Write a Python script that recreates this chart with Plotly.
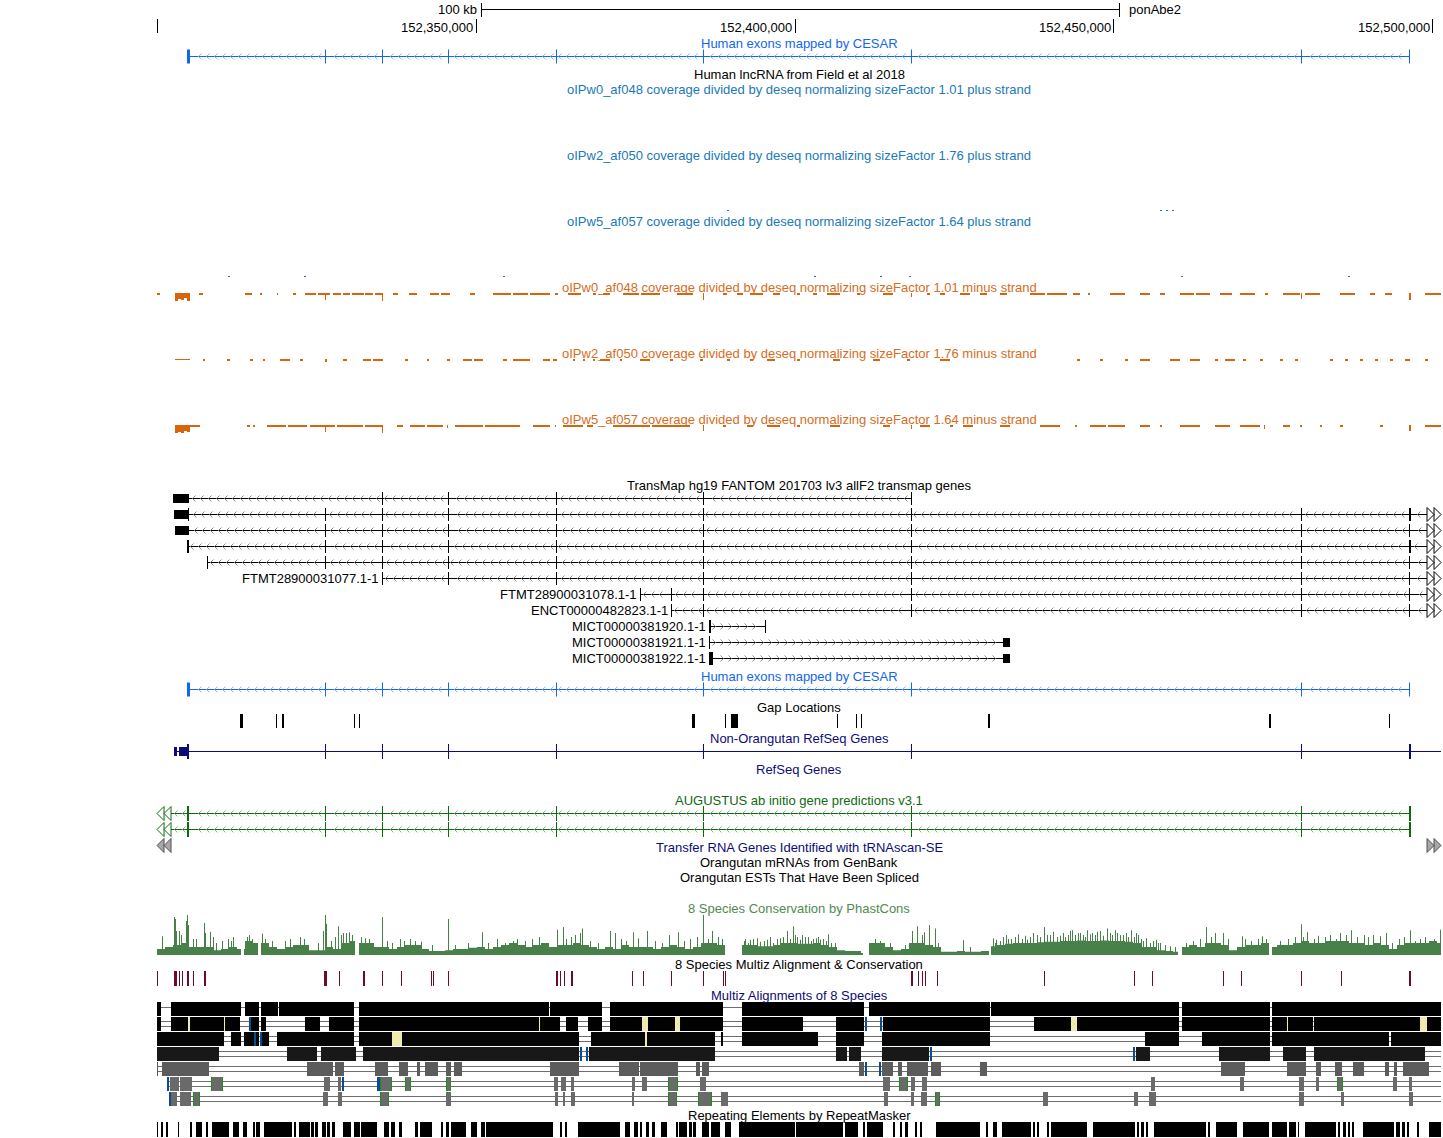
import plotly.graph_objects as go

# =============================== DATA ===================================
# Genomic positions are kb offsets from chr:152,300,000 (ponAbe2 assembly)
WINDOW_KB = (0.0, 201.41)
RULER_TICKS_KB = [50, 100, 150, 200]
RULER_LABELS = ["152,350,000", "152,400,000", "152,450,000", "152,500,000"]
SCALE_BAR_KB = (50.82, 150.82)
SCALE_BAR_TEXT = "100 kb"
ASSEMBLY = "ponAbe2"

TITLE_CESAR = "Human exons mapped by CESAR"
TITLE_LNC = "Human lncRNA from Field et al 2018"
TITLES_PLUS = ["oIPw0_af048 coverage divided by deseq normalizing sizeFactor 1.01 plus strand",
               "oIPw2_af050 coverage divided by deseq normalizing sizeFactor 1.76 plus strand",
               "oIPw5_af057 coverage divided by deseq normalizing sizeFactor 1.64 plus strand"]
TITLES_MINUS = ["oIPw0_af048 coverage divided by deseq normalizing sizeFactor 1.01 minus strand",
                "oIPw2_af050 coverage divided by deseq normalizing sizeFactor 1.76 minus strand",
                "oIPw5_af057 coverage divided by deseq normalizing sizeFactor 1.64 minus strand"]
TITLE_TRANSMAP = "TransMap hg19 FANTOM 201703 lv3 allF2 transmap genes"
TITLE_GAP = "Gap Locations"
TITLE_NCBI = "Non-Orangutan RefSeq Genes"
TITLE_REFSEQ = "RefSeq Genes"
TITLE_AUG = "AUGUSTUS ab initio gene predictions v3.1"
TITLE_TRNA = "Transfer RNA Genes Identified with tRNAscan-SE"
TITLE_MRNA = "Orangutan mRNAs from GenBank"
TITLE_EST = "Orangutan ESTs That Have Been Spliced"
TITLE_CONS = "8 Species Conservation by PhastCons"
TITLE_MZC = "8 Species Multiz Alignment & Conservation"
TITLE_MZ = "Multiz Alignments of 8 Species"
TITLE_RMSK = "Repeating Elements by RepeatMasker"

CESAR_EXONS = [(4.71, 5.10), (26.35, 26.51), (35.29, 35.45), (45.65, 45.80), (62.59, 62.74),
               (85.65, 85.80), (118.27, 118.43), (179.45, 179.61), (196.39, 196.55)]

PLUS_W0 = []
PLUS_W2 = [(89.41, 89.72, 1), (157.33, 157.65, 1), (158.27, 158.59, 1), (159.21, 159.53, 1)]
PLUS_W5 = [(11.14, 11.45, 1), (23.06, 23.37, 1), (54.27, 54.59, 1), (103.06, 103.37, 1),
           (113.41, 113.72, 1), (117.96, 118.27, 1), (160.63, 160.94, 1), (186.82, 187.14, 1)]

MINUS_W0 = [(0, 0.47, 2), (2.82, 3.29, 8), (3.29, 3.76, 6), (3.76, 4.24, 7), (4.24, 4.71, 5), (4.71, 5.18, 8),
            (6.59, 7.22, 2), (13.80, 14.90, 2), (16.16, 16.47, 2), (18.82, 18.98, 2), (21.33, 21.80, 2),
            (23.22, 24.9, 2), (25.2, 27.14, 2), (26.35, 26.51, 7), (27.61, 28.9, 2), (29.2, 30.27, 2),
            (30.59, 32.4, 2), (32.7, 33.9, 2), (34.2, 35.45, 2), (35.29, 35.45, 8),
            (37.02, 37.80, 2), (39.53, 40.78, 2), (42.82, 44.2, 2), (44.5, 45.96, 2), (49.10, 49.88, 2),
            (52.71, 55.5, 2), (55.8, 58.2, 2), (58.5, 61.65, 2),
            (62.43, 62.90, 2), (64.47, 66.51, 2), (68.39, 68.86, 2), (69.96, 71.06, 2), (73.10, 75.6, 2),
            (75.9, 78.90, 2),
            (81.57, 84.08, 2), (85.65, 85.80, 7), (88.78, 89.41, 2), (90.98, 91.92, 2), (93.02, 95.06, 2),
            (96.63, 97.73, 2), (100.39, 100.86, 2), (102.90, 103.53, 2), (105.10, 107.14, 2),
            (109.80, 110.27, 2), (113.88, 115.45, 2), (118.27, 118.43, 4), (120.78, 121.25, 2),
            (122.82, 123.61, 2), (125.96, 127.53, 2), (129.10, 130.19, 2), (132.23, 133.33, 2),
            (136.94, 139.3, 2), (139.6, 142.74, 2), (143.69, 144.78, 2), (146.04, 146.35, 2),
            (149.49, 151.84, 2),
            (154.19, 155.76, 2), (157.33, 158.12, 2), (160.47, 162.6, 2), (162.9, 165.17, 2),
            (166.74, 168.63, 2),
            (169.88, 172.23, 2), (173.80, 174.27, 2), (176.63, 179.29, 2), (179.45, 179.61, 6),
            (180.08, 182.43, 2), (185.57, 187.92, 2), (190.27, 191.06, 2), (192.63, 193.72, 2),
            (196.39, 196.70, 7), (198.90, 201.41, 2)]
MINUS_W2 = [(2.82, 5.18, 1), (7.22, 7.53, 2), (10.98, 11.45, 2), (14.59, 15.06, 2), (16.63, 16.94, 2),
            (19.29, 20.86, 2), (22.43, 22.90, 2), (26.35, 26.67, 3), (29.18, 29.80, 2), (32.31, 33.6, 2),
            (33.9, 35.45, 2),
            (38.90, 39.37, 2), (42.35, 42.67, 2), (45.49, 45.96, 2), (48.0, 49.4, 2), (49.7, 51.14, 2),
            (54.27, 54.90, 2),
            (55.84, 58.51, 2), (60.55, 61.65, 2), (62.12, 62.74, 2), (65.25, 65.57, 2), (66.82, 67.14, 2),
            (68.39, 68.71, 2), (69.49, 71.06, 2), (72.63, 72.94, 2), (75.76, 77.33, 2), (80.47, 80.94, 2),
            (85.17, 85.65, 2), (89.41, 89.88, 2), (93.02, 93.49, 2), (95.69, 96.94, 2), (100.39, 100.86, 2),
            (106.04, 107.14, 2), (112.31, 113.41, 2), (117.65, 118.12, 2), (122.82, 124.39, 2),
            (144.31, 144.78, 2), (147.92, 148.39, 2), (151.84, 152.31, 2), (154.19, 155.76, 2),
            (158.90, 160.47, 2), (162.04, 163.60, 2), (165.96, 166.43, 2), (167.53, 169.10, 2),
            (170.35, 170.82, 2), (173.02, 173.49, 2), (176.15, 176.63, 2), (178.51, 178.98, 2),
            (184.0, 184.47, 2), (186.35, 186.82, 2), (188.70, 189.17, 2), (191.06, 191.53, 2),
            (193.41, 193.88, 2), (195.76, 196.55, 2), (198.90, 199.37, 2)]
MINUS_W5 = [(2.82, 3.29, 8), (3.29, 3.76, 7), (3.76, 4.24, 8), (4.24, 4.71, 6), (4.71, 5.18, 7),
            (5.18, 6.74, 2), (14.12, 14.59, 2), (15.06, 15.37, 2), (17.25, 20.3, 2), (20.6, 23.53, 2),
            (24.0, 27.9, 2), (28.2, 32.31, 2),
            (26.35, 26.51, 7), (32.63, 35.45, 2), (35.29, 35.45, 8), (37.65, 38.59, 2), (39.69, 42.1, 2),
            (42.4, 44.86, 2),
            (45.49, 45.65, 3), (46.74, 51.2, 2), (51.5, 56.94, 2), (58.98, 61.65, 2), (62.43, 62.59, 2),
            (63.69, 66.82, 2),
            (67.45, 68.39, 2), (71.53, 77.4, 2), (77.7, 83.61, 2), (85.65, 85.80, 6), (88.78, 89.25, 2),
            (92.55, 93.49, 2),
            (95.69, 97.73, 2), (100.39, 100.86, 2), (105.57, 107.14, 2), (113.88, 114.98, 2),
            (118.27, 118.43, 4), (119.68, 121.25, 2), (124.39, 124.86, 2), (126.43, 128.0, 2),
            (132.23, 133.80, 2), (138.51, 141.65, 2), (143.99, 144.31, 2), (146.35, 148.9, 2),
            (149.2, 151.84, 2),
            (154.19, 155.76, 2), (157.33, 157.65, 2), (160.47, 163.60, 2), (165.96, 168.31, 2),
            (169.88, 173.02, 2), (173.65, 173.80, 4), (176.63, 177.72, 2), (179.29, 179.61, 2),
            (182.43, 182.74, 2), (185.57, 186.04, 2), (191.84, 192.31, 2), (196.39, 196.70, 6),
            (198.90, 201.41, 2)]

TM_NAMES = ["", "", "", "", "", "FTMT28900031077.1-1", "FTMT28900031078.1-1", "ENCT00000482823.1-1",
            "MICT00000381920.1-1", "MICT00000381921.1-1", "MICT00000381922.1-1"]
TM_STRAND = ["-", "-", "-", "-", "-", "-", "-", "-", "+", "+", "+"]
TM_CONTINUES_RIGHT = [False, True, True, True, True, True, True, True, False, False, False]
TM_UTR = [[(2.51, 5.02)], [(2.67, 4.86)], [(2.82, 5.02)], [], [], [], [], [], [],
          [(132.70, 133.80)], [(132.70, 133.80)]]
TM_EXONS = [
    [(35.29, 35.45), (45.65, 45.80), (62.59, 62.74), (85.65, 85.80), (118.27, 118.43)],
    [(4.86, 5.02), (26.35, 26.51), (35.29, 35.45), (45.65, 45.80), (62.59, 62.74), (85.65, 85.80),
     (118.27, 118.43), (179.45, 179.61), (196.39, 196.70)],
    [(26.35, 26.51), (35.29, 35.45), (45.65, 45.80), (62.59, 62.74), (85.65, 85.80),
     (118.27, 118.43), (179.45, 179.61), (196.39, 196.55)],
    [(4.71, 5.02), (26.35, 26.51), (35.29, 35.45), (45.65, 45.80), (62.59, 62.74), (85.65, 85.80),
     (118.27, 118.43), (179.45, 179.61), (196.39, 196.70)],
    [(7.84, 8.00), (26.35, 26.51), (35.29, 35.45), (45.65, 45.80), (62.59, 62.74), (85.65, 85.80),
     (118.27, 118.43), (179.45, 179.61), (196.39, 196.55)],
    [(35.29, 35.45), (45.65, 45.80), (62.59, 62.74), (85.65, 85.80), (118.27, 118.43),
     (179.45, 179.61), (196.39, 196.55)],
    [(75.76, 75.92), (80.63, 80.78), (85.65, 85.80), (118.27, 118.43), (179.45, 179.61), (196.39, 196.55)],
    [(80.63, 80.78), (85.65, 85.80), (118.27, 118.43), (179.45, 179.61), (196.39, 196.55)],
    [(86.59, 86.90), (95.37, 95.53)],
    [(86.59, 86.75)],
    [(86.59, 87.22)],
]

GAPS = [(13.02, 13.49), (18.67, 18.82), (19.61, 19.92), (30.90, 31.06), (31.69, 31.84), (83.92, 84.39),
        (89.10, 89.25), (90.04, 91.14), (106.67, 106.82), (109.65, 109.80), (110.43, 110.59),
        (130.35, 130.66), (174.43, 174.74), (193.25, 193.41)]

NCBI_UTR = [(2.67, 3.14), (3.45, 4.71)]
NCBI_EXONS = [(4.71, 5.02), (26.35, 26.51), (35.29, 35.45), (45.65, 45.80), (62.59, 62.74),
              (85.65, 85.80), (118.27, 118.43), (179.45, 179.61), (196.39, 196.70)]

AUG_EXONS = [(4.71, 5.02), (26.35, 26.51), (35.29, 35.45), (45.65, 45.80), (62.59, 62.74),
             (85.65, 85.80), (118.27, 118.43), (179.45, 179.61), (196.39, 196.70)]

CONS_BIN_KB = 1.2549
CONS_LEVEL = [0.15, 0.2, 0.25, 0.3, 0.2, 0.2, 0.2, 0.12, 0.15, 0.2, 0.15,
              0.35, 0.3, 0.3, 0.2, 0.15, 0.2, 0.25, 0.25, 0.12, 0.12,
              0.2, 0.15, 0.3, 0.35, 0.3, 0.3, 0.2, 0.2, 0.15, 0.2,
              0.25, 0.25, 0.15, 0.1, 0.1, 0.12, 0.15, 0.15, 0.18, 0.2,
              0.15, 0.2, 0.25, 0.3, 0.25, 0.2, 0.25, 0.3, 0.2, 0.25,
              0.25, 0.3, 0.25, 0.2, 0.15, 0.2, 0.15, 0.25, 0.2, 0.2,
              0.2, 0.15, 0.2, 0.25, 0.2, 0.15, 0.2, 0.3, 0.3, 0.25,
              0.0, 0.0, 0.25, 0.25, 0.22, 0.22, 0.25, 0.3, 0.3, 0.28,
              0.28, 0.3, 0.25, 0.2, 0.12, 0.1, 0.1, 0.05, 0.3, 0.3,
              0.2, 0.12, 0.15, 0.3, 0.3, 0.25, 0.2, 0.08, 0.08, 0.1,
              0.08, 0.08, 0.1, 0.22, 0.25, 0.28, 0.3, 0.3, 0.3, 0.32,
              0.33, 0.33, 0.35, 0.35, 0.36, 0.35, 0.35, 0.36, 0.35, 0.35,
              0.33, 0.3, 0.2, 0.2, 0.12, 0.1, 0.08, 0.2, 0.25, 0.2,
              0.3, 0.3, 0.25, 0.12, 0.2, 0.25, 0.25, 0.3, 0.2, 0.25,
              0.25, 0.3, 0.35, 0.3, 0.3, 0.35, 0.35, 0.35, 0.3, 0.3,
              0.25, 0.3, 0.25, 0.15, 0.25, 0.3, 0.3, 0.3, 0.35, 0.3]
CONS_SPIKE_KB = [0.78, 2.67, 2.82, 2.98, 3.45, 3.76, 4.55, 4.71, 4.86, 5.65, 6.12, 7.37, 7.53, 8.31, 8.78,
                 9.25, 10.20, 11.14, 11.61, 11.92, 14.12, 14.43, 14.90, 16.47, 16.94, 18.04, 20.08, 20.86,
                 22.43, 23.06, 25.25, 26.04, 26.35, 26.51, 27.29, 27.92, 28.39, 28.86, 29.18, 29.65, 30.12,
                 30.59, 32.0, 32.63, 33.25, 33.88, 35.29, 36.08, 36.86, 38.12, 38.74, 39.69, 40.47, 41.41,
                 43.14, 45.65, 46.74, 48.78, 50.98, 51.92, 53.33, 54.59, 55.84, 56.47, 57.72, 58.82, 59.92,
                 62.74, 63.69, 64.16, 64.94, 65.57, 66.35, 66.67, 67.92, 69.18, 71.06, 71.84, 72.78, 73.57,
                 74.67, 75.45, 76.86, 78.12, 79.21, 80.31, 81.72, 82.67, 83.61, 84.70, 85.65, 86.43, 87.06,
                 88.0, 88.63, 92.23, 93.02, 94.12, 95.21, 96.16, 97.25, 98.19, 98.82, 99.76, 100.39, 101.17,
                 102.12, 102.90, 103.68, 104.47, 105.25, 106.35, 112.63, 113.41, 114.04, 114.98, 117.33,
                 118.43, 119.21, 120.0, 120.31, 121.10, 122.04, 122.51, 126.43, 127.53, 131.45, 132.23,
                 133.49, 134.59, 135.68, 136.94, 138.04, 139.13, 140.08, 141.17, 142.12, 142.90, 143.53,
                 144.47, 145.25, 145.88, 146.66, 147.92, 149.02, 149.80, 150.59, 151.53, 152.0, 152.78,
                 153.25, 153.88, 154.66, 155.76, 156.70, 157.33, 161.41, 162.51, 163.60, 164.55, 165.33,
                 165.96, 167.21, 168.0, 170.19, 170.66, 171.60, 172.70, 173.33, 173.96, 176.15, 177.41,
                 178.51, 179.45, 179.76, 180.39, 181.49, 182.11, 183.21, 184.0, 184.94, 185.57, 186.51,
                 187.29, 188.23, 189.33, 189.96, 190.74, 191.84, 192.78, 193.72, 194.82, 195.60, 196.55,
                 197.33, 198.11, 198.90, 199.68, 200.31, 201.25,
                 131.13, 131.61, 132.70, 133.17, 133.96, 135.06, 136.15, 136.47, 137.41, 138.51, 139.61,
                 140.55, 141.64, 142.43, 143.21, 144.0, 144.78, 145.57, 146.35, 147.13, 147.45, 148.39,
                 149.49, 150.27, 151.06, 152.31, 153.57, 154.35, 155.13, 156.23, 157.02, 158.11, 158.90,
                 159.68,
                 92.08, 92.70, 93.49, 94.59, 95.68, 96.63, 97.72, 99.29, 100.08, 100.86, 101.64, 102.59,
                 103.37, 104.0, 104.94, 105.72]
CONS_SPIKE_VAL = [0.47, 0.95, 0.9, 0.6, 0.6, 0.5, 0.85, 1.0, 0.75, 0.4, 0.4, 0.8, 0.55, 0.58, 0.45,
                  0.3, 0.35, 0.4, 0.35, 0.45, 0.45, 0.5, 0.4, 0.53, 0.4, 0.35, 0.35, 0.4,
                  0.45, 0.4, 0.3, 0.6, 1.0, 0.78, 0.35, 0.45, 0.72, 0.5, 0.55, 0.55, 0.57,
                  0.5, 0.45, 0.42, 0.4, 0.3, 0.95, 0.35, 0.3, 0.4, 0.35, 0.4, 0.35, 0.33,
                  0.25, 0.9, 0.25, 0.3, 0.57, 0.3, 0.4, 0.3, 0.35, 0.4, 0.35, 0.4, 0.45,
                  0.63, 0.7, 0.4, 0.45, 0.5, 0.55, 0.66, 0.35, 0.3, 0.6, 0.55, 0.4, 0.35,
                  0.57, 0.42, 0.6, 0.35, 0.3, 0.5, 0.57, 0.35, 0.4, 0.45, 1.0, 0.4, 0.6,
                  0.45, 0.4, 0.4, 0.38, 0.42, 0.35, 0.45, 0.4, 0.45, 0.6, 0.72, 0.45, 0.5,
                  0.45, 0.4, 0.45, 0.4, 0.52, 0.3, 0.4, 0.35, 0.3, 0.3, 0.25,
                  0.6, 0.72, 0.5, 0.57, 0.75, 0.66, 0.3, 0.37, 0.2, 0.3, 0.35,
                  0.4, 0.45, 0.4, 0.45, 0.5, 0.7, 0.5, 0.45, 0.55, 0.5, 0.62,
                  0.55, 0.5, 0.62, 0.55, 0.6, 0.66, 0.5, 0.55, 0.5, 0.55, 0.62,
                  0.45, 0.5, 0.35, 0.3, 0.38, 0.3, 0.3, 0.35, 0.4, 0.7, 0.45,
                  0.55, 0.55, 0.4, 0.47, 0.4, 0.35, 0.4, 0.47, 0.4, 0.35, 0.4,
                  0.45, 0.77, 0.45, 0.57, 0.4, 0.48, 0.45, 0.5, 0.4, 0.55, 0.5,
                  0.62, 0.45, 0.5, 0.45, 0.5, 0.47, 0.55, 0.3, 0.4, 0.45, 0.62,
                  0.35, 0.4, 0.45, 0.35, 0.4, 0.63,
                  0.42, 0.38, 0.45, 0.5, 0.4, 0.52, 0.48, 0.38, 0.55, 0.45, 0.5,
                  0.58, 0.48, 0.45, 0.6, 0.5, 0.55, 0.45, 0.52, 0.5, 0.58, 0.48,
                  0.55, 0.62, 0.5, 0.45, 0.55, 0.4, 0.42, 0.35, 0.3, 0.25, 0.22,
                  0.2,
                  0.35, 0.3, 0.4, 0.33, 0.38, 0.3, 0.42, 0.4, 0.5, 0.38, 0.45, 0.35,
                  0.42, 0.38, 0.35, 0.3]
CONS_NODATA = [(13.18, 13.65), (15.84, 16.31), (31.06, 31.69), (89.25, 91.76), (110.74, 111.68),
               (130.51, 130.82), (160.15, 160.78), (174.43, 174.90)]

MZC_ELEMENTS = [(0.0, 0.16), (2.67, 3.14), (3.45, 3.61), (3.92, 4.08), (4.71, 5.02), (5.65, 5.80),
                (7.37, 7.69), (26.20, 26.67), (28.55, 28.71), (32.31, 32.63), (35.29, 35.45),
                (38.27, 38.43), (42.98, 43.14), (43.29, 43.45), (45.65, 45.80), (62.59, 62.90),
                (63.21, 63.37), (63.84, 64.0), (64.94, 65.25), (74.51, 74.67), (76.23, 76.39),
                (80.63, 80.78), (85.65, 85.80), (88.78, 88.94), (89.10, 89.25), (118.27, 118.59),
                (119.37, 119.53), (120.0, 120.16), (120.47, 120.63), (122.35, 122.51), (139.13, 139.29),
                (153.25, 153.41), (156.08, 156.23), (167.21, 167.37), (170.04, 170.19), (179.45, 179.61),
                (185.72, 185.88), (196.39, 196.70)]

MZ_BLOCKS = [
    [(0, 0.63), (2.2, 13.18), (13.8, 16.0), (16.31, 18.98), (19.14, 30.9), (31.69, 61.49), (61.65, 69.8),
     (71.06, 88.78), (91.76, 110.9), (111.68, 130.66), (130.82, 160.31), (160.78, 174.59), (174.9, 201.41)],
    [(0, 0.63), (2.2, 4.86), (5.18, 10.51), (10.67, 13.02), (14.74, 16.0), (16.31, 17.10), (23.22, 25.57),
     (26.98, 30.90), (31.69, 59.92), (60.08, 63.21), (64.16, 66.04), (67.61, 69.80), (71.06, 76.08),
     (77.02, 81.25), (82.04, 88.78), (91.76, 101.33), (106.51, 110.90), (113.88, 130.66), (137.57, 143.37),
     (144.31, 160.31), (160.78, 174.59), (174.90, 177.25), (177.41, 181.33), (181.49, 198.11),
     (199.21, 201.41)],
    [(0, 10.51), (11.61, 13.18), (13.65, 16.0), (16.31, 17.57), (18.82, 30.90), (31.69, 36.86),
     (38.43, 66.20), (68.08, 76.55), (76.86, 87.53), (88.47, 88.78), (91.76, 103.68), (106.51, 110.90),
     (113.73, 130.66), (154.98, 160.31), (163.92, 174.59), (174.90, 193.25), (193.56, 201.41)],
    [(0, 9.73), (20.39, 25.10), (25.73, 31.22), (32.31, 66.20), (67.76, 87.53), (106.51, 108.23),
     (108.55, 110.43), (113.73, 121.10), (153.57, 155.76), (166.59, 174.59), (176.63, 180.23),
     (181.49, 198.90)],
    [(0, 0.16), (0.78, 8.16), (23.53, 27.61), (27.92, 29.33), (34.20, 36.24), (37.96, 39.37), (40.78, 41.25),
     (42.04, 44.08), (45.33, 46.12), (46.59, 47.84), (61.65, 66.20), (72.47, 75.61), (75.76, 81.72),
     (84.55, 85.17), (85.49, 86.59), (110.12, 110.90), (113.73, 115.45), (116.24, 116.86), (117.65, 120.94),
     (121.41, 122.98), (129.10, 130.19), (166.90, 170.66), (177.25, 180.23), (181.80, 182.59),
     (184.78, 185.88), (187.61, 189.33), (192.63, 193.25), (194.04, 194.51), (195.45, 199.53)],
    [(2.04, 3.45), (3.61, 5.49), (8.47, 10.35), (26.20, 27.14), (28.39, 28.86), (34.98, 36.86),
     (38.90, 39.84), (45.33, 46.12), (62.27, 62.90), (63.37, 64.16), (64.94, 65.41), (74.51, 74.98),
     (76.08, 76.86), (80.16, 81.72), (85.17, 86.12), (113.88, 114.98), (116.39, 117.80), (118.27, 118.90),
     (120.0, 120.78), (155.92, 156.55), (169.88, 170.51), (179.14, 179.92), (181.80, 182.27),
     (185.10, 186.04), (193.88, 194.51), (196.39, 196.86)],
    [(2.20, 3.14), (3.61, 5.33), (5.65, 6.74), (26.04, 26.82), (28.39, 29.02), (34.98, 36.39),
     (45.33, 46.12), (62.43, 62.90), (63.69, 64.0), (64.94, 65.57), (74.51, 74.82), (80.16, 81.57),
     (84.86, 87.06), (88.47, 89.57), (114.04, 114.67), (118.27, 118.74), (119.84, 120.78), (122.04, 122.82),
     (138.98, 139.76), (153.25, 153.88), (155.61, 156.70), (179.14, 179.92), (185.72, 186.19),
     (196.39, 197.02)],
]
MZ_SPAN = [(0, 201.41), (0, 201.41), (0, 201.41), (0, 201.41), (0, 201.41), (1.57, 201.41), (1.88, 201.41)]
MZ_INSERTS = [[], [(4.86, 5.18), (10.51, 10.67), (59.92, 60.08), (76.08, 77.02), (81.25, 82.04),
                   (143.37, 144.31), (177.25, 177.41), (198.11, 199.21)],
              [(36.86, 38.43), (76.55, 76.86)], [], [], [], []]
MZ_DOUBLE = [[], [(14.43, 14.74), (111.06, 111.37), (113.41, 113.73)],
             [(15.22, 15.53), (16.16, 16.47)],
             [(66.35, 66.67), (67.29, 67.61), (121.25, 121.57), (153.10, 153.41)],
             [(111.06, 111.37), (113.26, 113.57)],
             [(1.57, 1.88), (29.02, 29.33), (34.51, 34.98)],
             [(1.88, 2.20)]]
MZ_MISSING = [[], [], [], [], [],
              [(8.47, 10.35), (34.98, 36.86), (38.90, 39.84), (45.33, 46.12), (80.16, 81.72),
               (116.39, 117.80), (185.10, 186.04)],
              [(5.65, 6.74), (34.98, 36.39), (80.16, 81.57), (84.86, 87.06), (122.04, 122.82)]]

RMSK = [(0.0, 0.16), (0.63, 0.94), (1.41, 1.73), (3.29, 3.45), (5.18, 5.49), (6.12, 7.06), (7.69, 8.0),
        (8.63, 11.29), (11.92, 12.86), (13.49, 14.12), (15.06, 15.37), (15.53, 16.16), (16.78, 21.18),
        (21.49, 21.80), (22.27, 24.0), (24.16, 24.63), (24.78, 25.25), (25.88, 26.51), (26.67, 27.14),
        (27.45, 27.92), (29.18, 30.43), (30.90, 31.84), (32.0, 34.51), (35.61, 36.39), (36.71, 37.33),
        (37.96, 38.43), (40.47, 40.94), (41.25, 43.14), (44.55, 44.86), (45.33, 45.80), (46.12, 48.47),
        (49.25, 50.20), (50.82, 51.45), (51.61, 62.12), (63.21, 63.53), (64.0, 64.31), (66.04, 72.63),
        (73.41, 74.20), (74.82, 75.45), (75.76, 76.08), (76.70, 77.18), (77.65, 78.12), (79.06, 80.0),
        (81.41, 81.72), (81.88, 83.14), (83.45, 83.92), (84.08, 84.55), (85.49, 86.59), (86.90, 88.31),
        (89.10, 90.04), (91.29, 100.08), (100.24, 107.61), (107.92, 109.96), (110.74, 111.06),
        (111.37, 113.88), (115.45, 115.76), (116.55, 116.86), (117.33, 117.80), (118.90, 119.21),
        (119.68, 120.0), (122.19, 129.10), (130.04, 130.35), (131.13, 131.76), (132.55, 137.10),
        (137.41, 137.72), (138.04, 138.35), (139.61, 139.92), (140.23, 145.88), (146.82, 153.41),
        (153.72, 154.04), (154.35, 154.82), (155.13, 155.45), (156.39, 164.55), (164.86, 165.17),
        (166.12, 169.41), (170.35, 174.43), (174.90, 177.25), (177.57, 178.67), (178.98, 179.14),
        (180.08, 184.94), (185.25, 185.57), (186.04, 186.51), (186.82, 187.14), (187.45, 187.76),
        (189.17, 194.04), (194.35, 194.98), (195.29, 195.76), (196.08, 196.39), (197.65, 197.96),
        (199.53, 201.41)]

# ============================ LAYOUT / STYLE ===============================
W, H = 1443, 1138
X0, X1 = -24.63, 201.72          # left part is the (blank) label gutter
S = (X1 - X0) / W                # kb per pixel
FONT = "Liberation Sans, Arial, Helvetica, sans-serif"
BLACK = "#000000"
CESAR_C, CESAR_CHEV = "#1366ee", "#92b8f4"
PLUS_C = "#2179b9"
MINUS_C, MINUS_TXT = "#d8640c", "#d66d1e"
NAVY = "#0c0c78"
AUG_C, AUG_CHEV = "#0e6a0e", "#86bd86"
CONS_C, CONS_TXT = "#48804a", "#4f8c4f"
MZC_C = "#6c0a2a"
MZ_SHADES = ["#000000", "#020202", "#060606", "#181818", "#5c5c5c", "#6a6a6a", "#6a6a6a"]
MZ_LINE = "#6e6e6e"
INS_C, DBL_C, MISS_C = "#eeeab0", "#0a4c94", "#1f8c1f"

FILLS, LINES = {}, {}


def to_px(x):
    return (x - X0) / S


def from_px(p):
    return X0 + p * S


def snap(x):
    return from_px(round(to_px(x)))


def poly(layer, color, pts):
    xs, ys = FILLS.setdefault((layer, color), ([], []))
    for x, y in pts:
        xs.append(x)
        ys.append(y)
    xs.append(None)
    ys.append(None)


def pline(layer, color, pts, width=1):
    xs, ys = LINES.setdefault((layer, color, width), ([], []))
    for x, y in pts:
        xs.append(x)
        ys.append(y)
    xs.append(None)
    ys.append(None)


def rect(layer, color, x0, x1, y0, y1):
    a, b = snap(x0), snap(x1)
    if b - a < S * 0.5:
        b = a + S
    poly(layer, color, [(a, y0), (b, y0), (b, y1), (a, y1)])


def hline(layer, color, x0, x1, row):
    rect(layer, color, x0, x1, row, row + 1)


def block(layer, color, x0, x1, row, h):
    rect(layer, color, x0, x1, row + 0.5 - h / 2, row + 0.5 + h / 2)


def chevrons(layer, color, lo, hi, row, strand, avoid):
    p, p1 = to_px(lo) + 5, to_px(hi) - 3
    av = [(to_px(a), to_px(b)) for a, b in avoid]
    yc = row + 0.5
    while p < p1:
        if all(p < a - 3 or p > b + 3 for a, b in av):
            if strand == "-":
                seg = [(p + 1.5, yc - 3), (p - 1.5, yc), (p + 1.5, yc + 3)]
            else:
                seg = [(p - 1.5, yc - 3), (p + 1.5, yc), (p - 1.5, yc + 3)]
            pline(layer, color, [(from_px(q), y) for q, y in seg])
        p += 8


def tri(color, pl, pr, row, direction, fill=None, layer=6):
    yc = row + 0.5
    if direction == "right":
        pts = [(pl, yc - 7), (pr, yc), (pl, yc + 7), (pl, yc - 7)]
    else:
        pts = [(pr, yc - 7), (pl, yc), (pr, yc + 7), (pr, yc - 7)]
    kp = [(from_px(q), y) for q, y in pts]
    if fill:
        poly(layer, fill, kp[:-1])
    pline(layer + 1, color, kp)


WL, WR = to_px(WINDOW_KB[0]), to_px(WINDOW_KB[1])


def edge_marks(color, row, side, fill=None):
    if side == "right":
        tri(color, WR - 14, WR - 7, row, "right", fill)
        tri(color, WR - 7, WR, row, "right", fill)
    else:
        tri(color, WL, WL + 7, row, "left", fill)
        tri(color, WL + 7, WL + 14, row, "left", fill)


def gene(row, utr, exons, col, chev, strand, cont_left=False, cont_right=False, marks_right=False,
         utr_h=9, exon_h=13):
    blocks = utr + exons
    lo = min(a for a, b in blocks)
    hi = max(b for a, b in blocks)
    if cont_left:
        lo = from_px(WL + 14)
    if cont_right:
        hi = from_px(WR - 14) if marks_right else WINDOW_KB[1]
    hline(2, col, lo, hi, row)
    if chev:
        chevrons(3, chev, lo, hi, row, strand, blocks)
    for a, b in utr:
        block(4, col, a, b, row, utr_h)
    for a, b in exons:
        block(4, col, a, b, row, exon_h)


ANN = []


def text(x, y, s, color, anchor="center"):
    ANN.append(dict(x=x, y=y, xref="x", yref="y", text=s, showarrow=False, xanchor=anchor,
                    yanchor="middle", borderpad=0, font=dict(family=FONT, size=13, color=color)))


MID = (WINDOW_KB[0] + WINDOW_KB[1]) / 2

# ---------------------------------------------------------------- ruler
hline(5, BLACK, SCALE_BAR_KB[0], SCALE_BAR_KB[1], 9)
for xb in SCALE_BAR_KB:
    rect(5, BLACK, xb, xb + S, 3, 17)
text(SCALE_BAR_KB[0] - 3 * S, 9.5, SCALE_BAR_TEXT, BLACK, "right")
text(SCALE_BAR_KB[1] + 9 * S, 9.5, ASSEMBLY, BLACK, "left")
rect(5, BLACK, WINDOW_KB[0], WINDOW_KB[0] + S, 19, 33)
for t, lab in zip(RULER_TICKS_KB, RULER_LABELS):
    rect(5, BLACK, t, t + S, 19, 33)
    text(t - 1.5 * S, 27, lab, BLACK, "right")

# ---------------------------------------------------------------- CESAR
text(MID, 43, TITLE_CESAR, CESAR_C)
gene(56, [], CESAR_EXONS, CESAR_C, CESAR_CHEV, "-", exon_h=14)
text(MID, 74, TITLE_LNC, BLACK)

# ---------------------------------------------------------------- coverage
for i, (title, data) in enumerate(zip(TITLES_PLUS, [PLUS_W0, PLUS_W2, PLUS_W5])):
    base = 145 + 66 * i
    text(MID, 89 + 66 * i, title, PLUS_C)
    for a, b, v in data:
        rect(4, PLUS_C, a, b, base - v, base)
for i, (title, data) in enumerate(zip(TITLES_MINUS, [MINUS_W0, MINUS_W2, MINUS_W5])):
    base = 293 + 66 * i
    text(MID, 287 + 66 * i, title, MINUS_TXT)
    for a, b, v in data:
        rect(4, MINUS_C, a, b, base, base + v)

# ---------------------------------------------------------------- TransMap
text(MID, 485, TITLE_TRANSMAP, BLACK)
for i in range(len(TM_NAMES)):
    row = 498 + 16 * i
    gene(row, TM_UTR[i], TM_EXONS[i], BLACK, "#8c8c8c", TM_STRAND[i],
         cont_right=TM_CONTINUES_RIGHT[i], marks_right=True)
    if TM_CONTINUES_RIGHT[i]:
        edge_marks(BLACK, row, "right", fill="#ffffff")
    if TM_NAMES[i]:
        start = min(a for a, b in TM_UTR[i] + TM_EXONS[i])
        text(start - 2 * S, row + 0.5, TM_NAMES[i], BLACK, "right")

# ---------------------------------------------------------------- CESAR 2
text(MID, 676, TITLE_CESAR, CESAR_C)
gene(689, [], CESAR_EXONS, CESAR_C, CESAR_CHEV, "-", exon_h=14)

# ---------------------------------------------------------------- gaps
text(MID, 707, TITLE_GAP, BLACK)
for a, b in GAPS:
    rect(4, BLACK, a, b, 714, 728)

# ---------------------------------------------------------------- RefSeq
text(MID, 738, TITLE_NCBI, NAVY)
gene(751, NCBI_UTR, NCBI_EXONS, NAVY, None, "-", cont_right=True, exon_h=15)
text(MID, 769, TITLE_REFSEQ, NAVY)

# ---------------------------------------------------------------- AUGUSTUS
text(MID, 800, TITLE_AUG, AUG_C)
for row in (813, 829):
    gene(row, [], AUG_EXONS, AUG_C, AUG_CHEV, "-", cont_left=True, exon_h=15)
    edge_marks(AUG_C, row, "left", fill="#ffffff")
edge_marks("#505050", 845, "left", fill="#a8a8a8")
edge_marks("#505050", 845, "right", fill="#a8a8a8")

text(MID, 847, TITLE_TRNA, NAVY)
text(MID, 862, TITLE_MRNA, BLACK)
text(MID, 877, TITLE_EST, BLACK)

# ---------------------------------------------------------------- PhastCons
text(MID, 908, TITLE_CONS, CONS_TXT)
CONS_BASE, CONS_H = 955, 40
for i, v in enumerate(CONS_LEVEL):
    a = WINDOW_KB[0] + i * CONS_BIN_KB
    b = min(a + CONS_BIN_KB, WINDOW_KB[1])
    if v > 0 and a < WINDOW_KB[1]:
        rect(2, CONS_C, a, b, CONS_BASE - v * CONS_H, CONS_BASE)
for x, v in zip(CONS_SPIKE_KB, CONS_SPIKE_VAL):
    rect(2, CONS_C, x, x + S, CONS_BASE - v * CONS_H, CONS_BASE)
for a, b in CONS_NODATA:
    rect(3, "#ffffff", a, b, CONS_BASE - CONS_H - 2, CONS_BASE + 1)

# ---------------------------------------------------------------- Multiz
text(MID, 964, TITLE_MZC, BLACK)
for a, b in MZC_ELEMENTS:
    rect(4, MZC_C, a, b, 971, 986)
text(MID, 995, TITLE_MZ, NAVY)
for r in range(7):
    top = 1002 + 15 * r
    lo, hi = MZ_SPAN[r]
    if r == 0:
        hline(1, MZ_LINE, lo, hi, top + 5)
    else:
        hline(1, MZ_LINE, lo, hi, top + 4)
        hline(1, MZ_LINE, lo, hi, top + 9)
    for a, b in MZ_BLOCKS[r]:
        rect(2, MZ_SHADES[r], a, b, top, top + 14)
    for a, b in MZ_INSERTS[r]:
        rect(3, INS_C, a, b, top, top + 14)
    for a, b in MZ_DOUBLE[r]:
        rect(3, DBL_C, a, b, top, top + 14)
    for a, b in MZ_MISSING[r]:
        rect(3, MISS_C, a, a + S, top, top + 14)
        rect(3, MISS_C, b - S, b, top, top + 14)

# ---------------------------------------------------------------- RepeatMasker
text(MID, 1115, TITLE_RMSK, BLACK)
for a, b in RMSK:
    rect(4, BLACK, a, b, 1122, 1137)

# ================================= FIGURE ==================================
fig = go.Figure()
items = [(k[0], "f", k, v) for k, v in FILLS.items()] + [(k[0] + 0.5, "l", k, v) for k, v in LINES.items()]
items.sort(key=lambda t: t[0])
for _, kind, key, (xs, ys) in items:
    if kind == "f":
        fig.add_trace(go.Scatter(x=xs, y=ys, mode="lines", fill="toself", fillcolor=key[1],
                                 line=dict(width=0, color=key[1]), hoverinfo="skip"))
    else:
        fig.add_trace(go.Scatter(x=xs, y=ys, mode="lines", line=dict(width=key[2], color=key[1]),
                                 hoverinfo="skip"))

fig.update_layout(
    width=W, height=H, margin=dict(l=0, r=0, t=0, b=0, pad=0),
    paper_bgcolor="#ffffff", plot_bgcolor="#ffffff", showlegend=False,
    xaxis=dict(range=[X0, X1], visible=False, fixedrange=True),
    yaxis=dict(range=[H, 0], visible=False, fixedrange=True),
    annotations=ANN,
)
# the page body would otherwise add an 8px margin around the figure
fig.write_html("out.html", config=dict(displayModeBar=False),
               post_script="document.body.style.margin='0px';")
